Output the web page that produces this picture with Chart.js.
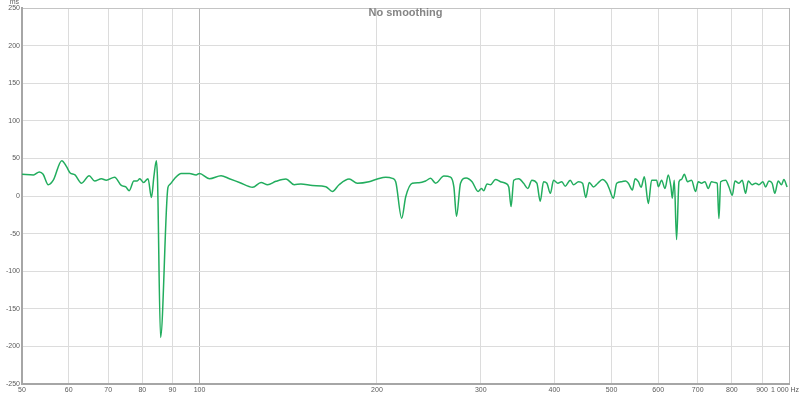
<!DOCTYPE html>
<html>
<head>
<meta charset="utf-8">
<script src="https://cdn.jsdelivr.net/npm/chart.js@4"></script>
<style>
  html, body { margin: 0; padding: 0; background: #fff; }
</style>
</head>
<body>
<canvas id="groupDelay" width="800" height="396"></canvas>
<script>
// Group delay (ms) against frequency (Hz)
const freqHz = [
  50, 52.3, 53.5, 54.3, 55.4, 56.5, 58.4, 59.5, 60.3, 61.5,
  63.1, 65.0, 66.4, 68.2, 69.5, 71.8, 73.7, 75.0, 76.0, 77.4,
  78.4, 79.2, 80.4, 81.8, 82.9, 83.7, 84.5, 84.9, 85.9, 88.4,
  89.0, 90.7, 93.1, 96.2, 98.7, 100, 104, 108.8, 112.4, 116.9,
  123.1, 127.2, 130.5, 134.8, 140.2, 144.8, 148.6, 155.5, 163.8, 168.1,
  172.5, 179.4, 185.3, 193.9, 200.3, 207.0, 212.4, 215.2, 220.3, 223.8,
  229.6, 235.7, 241.9, 246.6, 251.5, 259.8, 266.6, 270.1, 272.9, 277.2,
  283.3, 290.0, 296.9, 300.8, 303.5, 307.5, 311.6, 317.8, 324.0, 330.4,
  334.7, 337.7, 341.3, 348.0, 354.7, 360.6, 366.3, 373.5, 378.5, 383.4,
  388.4, 393.7, 398.7, 405.5, 411.8, 417.3, 425.5, 431.1, 439.5, 446.5,
  452.2, 458.3, 466.0, 473.9, 482.6, 490.8, 495.4, 503.7, 510.2, 520.3,
  528.4, 534.0, 542.4, 548.2, 555.3, 561.1, 568.4, 577.3, 584.8, 596.3,
  600.3, 608.0, 616.1, 624.1, 630.7, 633.9, 638.9, 644.6, 650.7, 657.3,
  664.3, 672.9, 683.4, 694.2, 701.5, 710.6, 720.1, 729.4, 738.8, 748.7,
  755.4, 760.5, 765.8, 780.9, 791.0, 801.2, 809.7, 822.4, 833.0, 844.1,
  852.7, 866.1, 877.7, 889.1, 903.0, 912.6, 924.4, 936.3, 946.2, 958.5,
  971.3, 980.0, 992.6
];
const delayMs = [
  29, 28, 32, 29, 15, 21, 47, 39, 31, 28,
  17, 27, 20, 23, 21, 25, 14, 12, 7, 20,
  20, 23, 18, 23, -2, 26, 47, 20, -188, 11,
  15, 23, 30, 30, 28, 30, 23, 27, 23, 18,
  11.5, 18, 15, 19.5, 22.6, 15, 16, 14, 12.4, 6,
  15, 22.6, 17, 19, 22.6, 25, 23.5, 19, -29.6, -1,
  17, 17.7, 20, 23.5, 17, 26.5, 25, 12, -27, 17,
  24, 19, 6, 10, 7, 16, 15, 22, 19, 17,
  12, -14, 21, 23, 17, 10, 21, 17, -7, 19,
  17, 3.5, 21, 17, 19, 13, 21, 15, 19, 17,
  -2, 18, 12, 17, 22, 17, 10, -3, 17, 19,
  20, 17, 8, 23, 19, 11.5, 25.7, -10, 21, 21,
  12.4, 21, 10, 28, 12, -3, 21, -58, 19, 22,
  29, 19, 21, 6, 19, 17, 19, 10, 19, 18,
  17, -30, 19, 21, 12, 1, 20, 17, 21, 3.5,
  20, 15, 17, 15, 19, 12, 20, 17, 3.5, 20,
  15, 22, 12
];

const xTicks = [50, 60, 70, 80, 90, 100, 200, 300, 400, 500, 600, 700, 800, 900, 1000];
const xTickLabels = ['50', '60', '70', '80', '90', '100', '200', '300', '400', '500', '600', '700', '800', '900', '1 000 Hz    '];
const yTicks = [-250, -200, -150, -100, -50, 0, 50, 100, 150, 200, 250];
const yTickLabels = ['-250', '-200', '-150', '-100', '-50', '0', '50', '100', '150', '200', '250'];

const chartTitle = 'No smoothing';
const yUnit = 'ms';

const tickFont = { family: 'Liberation Sans, Arial, sans-serif', size: 7 };

// title and unit label sit inside the plot, like the original
const overlayText = {
  id: 'overlayText',
  afterDraw(chart) {
    const ctx = chart.ctx;
    ctx.save();
    ctx.fillStyle = '#858585';
    ctx.font = 'bold 11px "Liberation Sans", Arial, sans-serif';
    ctx.textAlign = 'center';
    ctx.textBaseline = 'middle';
    ctx.fillText(chartTitle, (chart.chartArea.left + chart.chartArea.right) / 2, 13);
    ctx.fillStyle = '#606060';
    ctx.font = '7px "Liberation Sans", Arial, sans-serif';
    ctx.textAlign = 'right';
    ctx.textBaseline = 'top';
    ctx.fillText(yUnit, chart.chartArea.left - 3, -1);
    ctx.restore();
  }
};

new Chart(document.getElementById('groupDelay'), {
  type: 'line',
  data: {
    datasets: [{
      data: freqHz.map((f, i) => ({ x: f, y: delayMs[i] })),
      borderColor: '#22ad5e',
      borderWidth: 1.5,
      pointRadius: 0,
      cubicInterpolationMode: 'monotone',
      fill: false
    }]
  },
  options: {
    responsive: false,
    animation: false,
    layout: { padding: { top: 8, right: 11, left: 0, bottom: 0 } },
    plugins: {
      legend: { display: false },
      tooltip: { enabled: false }
    },
    scales: {
      x: {
        type: 'logarithmic',
        min: 50,
        max: 1000,
        afterBuildTicks: s => { s.ticks = xTicks.map(v => ({ value: v })); },
        afterFit: s => { s.height = 12; s.paddingLeft = 0; s.paddingRight = 0; },
        ticks: {
          autoSkip: false,
          maxRotation: 0,
          minRotation: 0,
          padding: 2,
          font: tickFont,
          color: '#5a5a5a',
          callback: (v, i) => xTickLabels[i]
        },
        grid: {
          drawTicks: false,
          color: c => (c.tick && (c.tick.value === 100 || c.tick.value === 1000)) ? '#b4b4b4' : '#dcdcdc'
        },
        border: { color: '#a6a6a6', width: 2 }
      },
      y: {
        min: -250,
        max: 250,
        afterBuildTicks: s => { s.ticks = yTicks.map(v => ({ value: v })); },
        afterFit: s => { s.width = 22; s.paddingTop = 0; s.paddingBottom = 0; },
        ticks: {
          padding: 2,
          font: tickFont,
          color: '#5a5a5a',
          callback: (v, i) => yTickLabels[i]
        },
        grid: {
          drawTicks: false,
          color: c => (c.tick && c.tick.value === 250) ? '#c4c4c4' : '#dcdcdc'
        },
        border: { color: '#a6a6a6', width: 2 }
      }
    }
  },
  plugins: [overlayText]
});
</script>
</body>
</html>
